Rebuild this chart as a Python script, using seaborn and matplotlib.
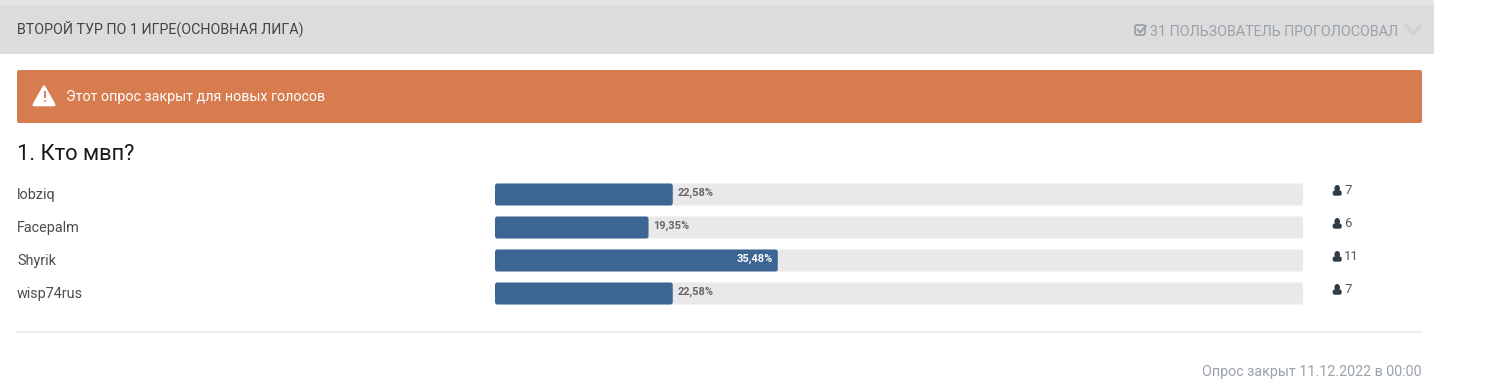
import numpy as np
import pandas as pd
import matplotlib
matplotlib.use("Agg")
import matplotlib.pyplot as plt
from matplotlib.patches import Rectangle, FancyBboxPatch, Polygon, Ellipse
from matplotlib.transforms import ScaledTranslation
import seaborn as sns

W, H = 1486, 386

players = ["lobziq", "Facepalm", "Shyrik", "wisp74rus"]
# drawn bar lengths in the picture, on a 0-100 track (the labels are the finer numbers)
bar_lengths = [22, 19, 35, 22]
votes = [7, 6, 11, 7]
percent_labels = ["22,58%", "19,35%", "35,48%", "22,58%"]
track_value = 100

title_text = "ВТОРОЙ ТУР ПО 1 ИГРЕ(ОСНОВНАЯ ЛИГА)"
voted_text = "31 ПОЛЬЗОВАТЕЛЬ ПРОГОЛОСОВАЛ"
alert_text = "Этот опрос закрыт для новых голосов"
question_text = "1. Кто мвп?"
closed_text = "Опрос закрыт 11.12.2022 в 00:00"

sns.set_theme(style="white")
plt.rcParams["font.family"] = ["Roboto", "DejaVu Sans"]


def px(size):
    # css pixels to points at dpi 100
    return size * 0.72


def user_icon(ax, x, y):
    ax.add_patch(Ellipse((x + 4.5, y + 3.5), 5.6, 7, color="#2f3b45", lw=0))
    ax.add_patch(FancyBboxPatch((x, y + 5.5), 9, 5.2, boxstyle="round,pad=0,rounding_size=2", color="#2f3b45", lw=0))


def round_bars(ax, aspect):
    # swap the square bars for rounded ones of the same size
    for bar in list(ax.patches):
        box = FancyBboxPatch((bar.get_x(), bar.get_y()), bar.get_width(), bar.get_height(),
                             boxstyle="round,pad=0,rounding_size=0.3", mutation_aspect=aspect,
                             fc=bar.get_facecolor(), ec="none", zorder=bar.get_zorder())
        bar.remove()
        ax.add_patch(box)


fig = plt.figure(figsize=(W / 100, H / 100), dpi=100, facecolor="white")

# page furniture in pixel coordinates
bg = fig.add_axes([0, 0, 1, 1], zorder=0)
bg.set_xlim(0, W)
bg.set_ylim(H, 0)
bg.axis("off")

bg.add_patch(Rectangle((0, 0), 1434, 5, color="#e6e6e6", lw=0))
bg.add_patch(Rectangle((0, 5), 1434, 49, color="#dcdcdc", lw=0))
bg.text(17, 28.5, title_text, fontsize=px(14.3), color="#3f4447", va="center", ha="left")

# checkbox icon + voters text
bg.add_patch(FancyBboxPatch((1135, 25), 10, 10, boxstyle="round,pad=0,rounding_size=2", fc="none", ec="#9aa1a8", lw=1.3))
bg.plot([1137.5, 1140, 1146], [29.5, 32.5, 26], color="#9aa1a8", lw=1.5)
bg.text(1150, 31.5, voted_text, fontsize=px(14.25), color="#9aa1a8", va="center", ha="left")
bg.plot([1406, 1413, 1420], [26, 33.5, 26], color="#d0d2d4", lw=3)

bg.add_patch(FancyBboxPatch((17, 70), 1405, 53, boxstyle="round,pad=0,rounding_size=2", color="#d77c4f", lw=0))
bg.add_patch(Polygon([[44, 87], [54, 104.8], [34, 104.8]], closed=True, fc="white", ec="white", lw=2.2, joinstyle="round"))
bg.text(44, 98, "!", fontsize=px(14), color="#d77c4f", fontweight="bold", va="center", ha="center")
bg.text(66, 96.5, alert_text, fontsize=px(14.2), color="white", va="center", ha="left")

bg.text(17, 154, question_text, fontsize=px(21.9), color="#1a1a1a", va="center", ha="left")

bg.plot([17, 1421], [332, 332], color="#eeeeee", lw=1.4)
bg.text(1422, 372, closed_text, fontsize=px(14.25), color="#9aa1a8", va="center", ha="right")

# bars
df = pd.DataFrame({"player": players, "percent": bar_lengths, "track": [track_value] * len(players)})

ax = fig.add_axes([495 / W, 1 - 310 / H, 808 / W, 132 / H], zorder=1)
ax.patch.set_alpha(0)
sns.barplot(data=df, x="track", y="player", color="#e9e9e9", saturation=1, width=22 / 33, ax=ax)
sns.barplot(data=df, x="percent", y="player", color="#3c6594", saturation=1, width=22 / 33, ax=ax)
ax.set_xlim(0, track_value)
ax.set_ylim(3.5, -0.5)
ax.set_xlabel("")
ax.set_ylabel("")
ax.set_xticks([])
sns.despine(ax=ax, left=True, bottom=True)
round_bars(ax, (808 / track_value) / 33)
ax.tick_params(axis="y", length=0, pad=px(478), labelsize=px(14.4), labelcolor="#484c50")
for lab in ax.get_yticklabels():
    lab.set_ha("left")
    lab.set_transform(lab.get_transform() + ScaledTranslation(0, 1 / 100, fig.dpi_scale_trans))

for i, (p, txt) in enumerate(zip(bar_lengths, percent_labels)):
    if p > 30:
        ax.annotate(txt, (p, i), xytext=(px(-5), px(2)), textcoords="offset points", ha="right", va="center",
                    fontsize=px(11), color="white", fontweight="bold")
    else:
        ax.annotate(txt, (p, i), xytext=(px(5), px(2)), textcoords="offset points", ha="left", va="center",
                    fontsize=px(11), color="#666666", fontweight="bold")

# vote counts on the right
for i, v in enumerate(votes):
    y = 185 + i * 33
    user_icon(bg, 1332.7, y)
    bg.text(1344, y + 5.5, str(v), fontsize=px(13.3), color="#555a5e", va="center", ha="left")

fig.savefig("out.png", dpi=100)
